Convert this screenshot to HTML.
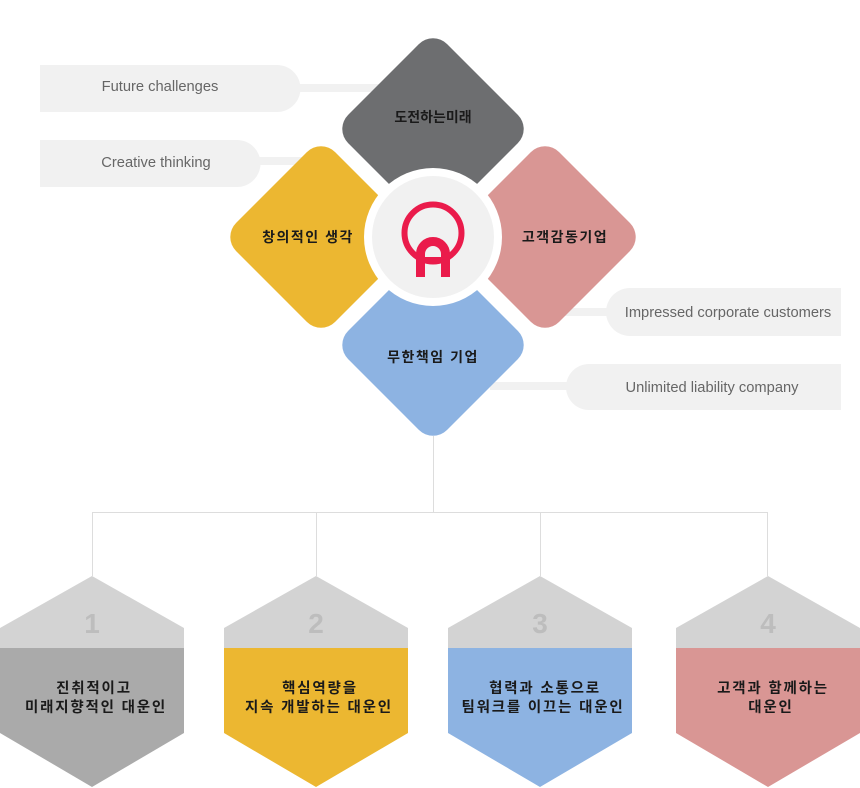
<!DOCTYPE html>
<html><head><meta charset="utf-8"><style>
html,body{margin:0;padding:0;background:#fff;width:860px;height:788px;overflow:hidden}
svg{display:block}
.k{font-family:"Liberation Sans","Noto Sans CJK KR",sans-serif;font-weight:bold;font-size:14px;fill:#1a1a1a;text-anchor:middle;letter-spacing:1.5px}
.t{letter-spacing:0}
.h{font-size:14.5px;letter-spacing:1.8px}
.e{font-family:"Liberation Sans","Noto Sans CJK KR",sans-serif;font-size:14.7px;fill:#666;text-anchor:middle}
.n{font-family:"Liberation Sans",sans-serif;font-weight:bold;font-size:28px;fill:#bdbdbd;text-anchor:middle}
</style></head><body>
<svg width="860" height="788" viewBox="0 0 860 788" xmlns="http://www.w3.org/2000/svg">
<g fill="#f1f1f1">
<rect x="290" y="84" width="90" height="8"/>
<path d="M40 65 H277 A23.5 23.5 0 0 1 277 112 H40 Z"/>
<rect x="250" y="157" width="60" height="8"/>
<path d="M40 140 H237 A23.5 23.5 0 0 1 237 187 H40 Z"/>
<rect x="560" y="308" width="60" height="8"/>
<path d="M841 288 H630 A24 24 0 0 0 630 336 H841 Z"/>
<rect x="490" y="382" width="90" height="8"/>
<path d="M841 364 H589 A23 23 0 0 0 589 410 H841 Z"/>
</g>
<text class="e" x="160" y="91">Future challenges</text>
<text class="e" x="156" y="167">Creative thinking</text>
<text class="e" x="728" y="317">Impressed corporate customers</text>
<text class="e" x="712" y="392">Unlimited liability company</text>
<g>
<rect x="-70" y="-70" width="140" height="140" rx="20" fill="#6d6e70" transform="translate(433,129) rotate(45)"/>
<rect x="-70" y="-70" width="140" height="140" rx="20" fill="#ecb731" transform="translate(321,237) rotate(45)"/>
<rect x="-70" y="-70" width="140" height="140" rx="20" fill="#d99694" transform="translate(545,237) rotate(45)"/>
<rect x="-70" y="-70" width="140" height="140" rx="20" fill="#8db3e2" transform="translate(433,345) rotate(45)"/>
</g>
<g stroke="#fff" stroke-width="6">
<line x1="433" y1="237" x2="330" y2="134"/>
<line x1="433" y1="237" x2="536" y2="134"/>
<line x1="433" y1="237" x2="330" y2="340"/>
<line x1="433" y1="237" x2="536" y2="340"/>
</g>
<circle cx="433" cy="237" r="69" fill="#fff"/>
<circle cx="433" cy="237" r="61" fill="#f1f1f1"/>
<circle cx="433" cy="233" r="28.5" fill="none" stroke="#ea1b4b" stroke-width="6"/>
<path d="M420.5 277 V254 A12.5 12.5 0 0 1 445.5 254 V277" fill="none" stroke="#ea1b4b" stroke-width="9"/>
<rect x="425" y="257" width="16" height="5" fill="#ea1b4b"/>
<text class="k t" x="433" y="122">도전하는미래</text>
<text class="k" x="308" y="242">창의적인 생각</text>
<text class="k" x="565" y="242">고객감동기업</text>
<text class="k" x="433" y="362">무한책임 기업</text>
<g stroke="#dddddd" stroke-width="1" fill="none">
<line x1="433.5" y1="436" x2="433.5" y2="512"/>
<line x1="92" y1="512.5" x2="768" y2="512.5"/>
<line x1="92.5" y1="512" x2="92.5" y2="576"/>
<line x1="316.5" y1="512" x2="316.5" y2="576"/>
<line x1="540.5" y1="512" x2="540.5" y2="576"/>
<line x1="767.5" y1="512" x2="767.5" y2="576"/>
</g>
<defs>
<clipPath id="hx"><polygon points="92,576 184,628 184,733 92,787 0,733 0,628"/></clipPath>
</defs>
<g clip-path="url(#hx)"><rect x="0" y="570" width="184" height="78" fill="#d3d3d3"/><rect x="0" y="648" width="184" height="140" fill="#aaaaaa"/></g>
<g transform="translate(224,0)"><g clip-path="url(#hx)"><rect x="0" y="570" width="184" height="78" fill="#d3d3d3"/><rect x="0" y="648" width="184" height="140" fill="#ecb731"/></g></g>
<g transform="translate(448,0)"><g clip-path="url(#hx)"><rect x="0" y="570" width="184" height="78" fill="#d3d3d3"/><rect x="0" y="648" width="184" height="140" fill="#8db3e2"/></g></g>
<g transform="translate(676,0)"><g clip-path="url(#hx)"><rect x="0" y="570" width="184" height="78" fill="#d3d3d3"/><rect x="0" y="648" width="184" height="140" fill="#d99694"/></g></g>
<text class="n" x="92" y="633">1</text>
<text class="n" x="316" y="633">2</text>
<text class="n" x="540" y="633">3</text>
<text class="n" x="768" y="633">4</text>
<text class="k h" x="94" y="693">진취적이고</text>
<text class="k h" x="96" y="712">미래지향적인 대운인</text>
<text class="k h" x="320" y="693">핵심역량을</text>
<text class="k h" x="319" y="712">지속 개발하는 대운인</text>
<text class="k h" x="545" y="693">협력과 소통으로</text>
<text class="k h" x="543" y="712">팀워크를 이끄는 대운인</text>
<text class="k h" x="773" y="693">고객과 함께하는</text>
<text class="k h" x="771" y="712">대운인</text>
</svg>
</body></html>
